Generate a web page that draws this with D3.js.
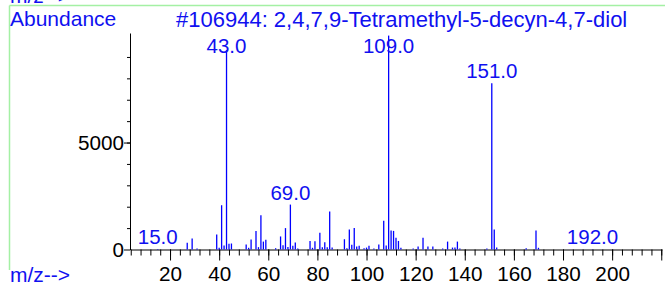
<!DOCTYPE html>
<meta charset="utf-8">
<style>
body { margin: 0; background: #fff; }
text { font-family: "Liberation Sans", Arial, sans-serif; font-size: 21px; }
.lbl { fill: #1010f0; }
.peak { font-size: 20.5px; }
.title { font-size: 22px; }
.axis text { fill: #000; font-size: 20.7px; font-family: "Liberation Sans", Arial, sans-serif; }
.axis path, .axis line { stroke: #000; }
</style>
<body>
<script src="https://d3js.org/d3.v7.min.js"></script>
<script>

var title = "#106944: 2,4,7,9-Tetramethyl-5-decyn-4,7-diol";

// m/z of each peak and its abundance
var masses = [15, 27, 29, 31, 39, 40, 41, 42, 43, 44, 45, 51, 52, 53, 55, 56, 57, 58, 59,
  63, 65, 66, 67, 68, 69, 70, 71, 72, 77, 78, 79, 81, 82, 83, 84, 85, 86,
  91, 92, 93, 94, 95, 96, 97, 99, 100, 101, 103, 105, 107, 108, 109, 110, 111, 112, 113, 114,
  119, 121, 123, 125, 127, 131, 133, 135, 136, 137, 138, 149, 151, 152, 153, 165, 169, 170, 192];
var abundances = [20, 310, 515, 50, 700, 80, 2070, 190, 9320, 270, 280, 230, 80, 470, 860, 110, 1600, 370, 450,
  60, 610, 200, 1000, 120, 2100, 170, 330, 50, 400, 80, 390, 780, 110, 340, 110, 1780, 90,
  480, 60, 935, 220, 1000, 140, 170, 60, 90, 170, 50, 230, 1340, 190, 9999, 890, 870, 545, 400, 80,
  50, 140, 545, 140, 140, 50, 370, 90, 90, 370, 50, 50, 7770, 935, 90, 60, 890, 80, 10];

var labelled = [15, 43, 69, 109, 151, 192];

var xMajor = d3.range(20, 221, 20);
var xMinor = d3.range(4, 221, 4);
var yMajor = [0, 5000];
var yMinor = d3.range(1000, 9001, 1000);

var width = 665, height = 287;

var svg = d3.select("body").append("svg")
    .attr("width", width)
    .attr("height", height);

var x = d3.scaleLinear().domain([3.7, 220.3]).range([130, 662]);
var y = d3.scaleLinear().domain([0, 10120]).range([249.5, 33]);

// green frame
svg.append("line").attr("x1", 9.5).attr("x2", width).attr("y1", 5.5).attr("y2", 5.5)
    .attr("stroke", "#a4f0a4").attr("stroke-width", 1.5);
svg.append("line").attr("x1", 9.5).attr("x2", 9.5).attr("y1", 5.5).attr("y2", 270)
    .attr("stroke", "#a4f0a4").attr("stroke-width", 1.5);

// top label sits mostly above the page, as in the original print
svg.append("text").attr("class", "lbl").attr("x", 10).attr("y", 2.5).text("m/z-->");
svg.append("text").attr("class", "lbl").attr("x", 10).attr("y", 26).text("Abundance");
svg.append("text").attr("class", "lbl title").attr("x", 176).attr("y", 26.5).text(title);
svg.append("text").attr("class", "lbl").attr("x", 10).attr("y", 282).text("m/z-->");

// x axis
svg.append("g").attr("class", "axis")
    .attr("transform", "translate(0," + y(0) + ")")
    .call(d3.axisBottom(x).tickValues(xMinor).tickSize(6).tickSizeOuter(0).tickFormat(""));
svg.append("g").attr("class", "axis")
    .attr("transform", "translate(0," + y(0) + ")")
    .call(d3.axisBottom(x).tickValues(xMajor).tickSize(11).tickSizeOuter(0)
      .tickFormat(function(d) { return d < 220 ? d : ""; }))
    .call(function(g) { g.select(".domain").remove(); g.selectAll("text").attr("y", 17); });

// y axis
svg.append("g").attr("class", "axis")
    .attr("transform", "translate(130,0)")
    .call(d3.axisLeft(y).tickValues(yMinor).tickSize(3).tickSizeOuter(0).tickFormat(""));
svg.append("g").attr("class", "axis")
    .attr("transform", "translate(130,0)")
    .call(d3.axisLeft(y).tickValues(yMajor).tickSize(6).tickSizeOuter(0).tickFormat(d3.format("d")))
    .call(function(g) { g.select(".domain").remove(); g.selectAll("text").attr("x", -6); });

var peaks = masses.map(function(m, i) { return { m: m, a: abundances[i] }; });

svg.append("g").selectAll("line")
    .data(peaks)
  .enter().append("line")
    .attr("x1", function(d) { return x(d.m); })
    .attr("x2", function(d) { return x(d.m); })
    .attr("y1", y(0))
    .attr("y2", function(d) { return y(d.a); })
    .attr("stroke", "#0000ff")
    .attr("stroke-width", 1.3);

svg.append("g").selectAll("text")
    .data(peaks.filter(function(d) { return labelled.indexOf(d.m) >= 0; }))
  .enter().append("text")
    .attr("class", "lbl peak")
    .attr("text-anchor", "middle")
    .attr("x", function(d) { return x(d.m); })
    .attr("y", function(d) { return Math.max(53, y(d.a) - 5); })
    .text(function(d) { return d.m.toFixed(1); });

</script>
</body>
